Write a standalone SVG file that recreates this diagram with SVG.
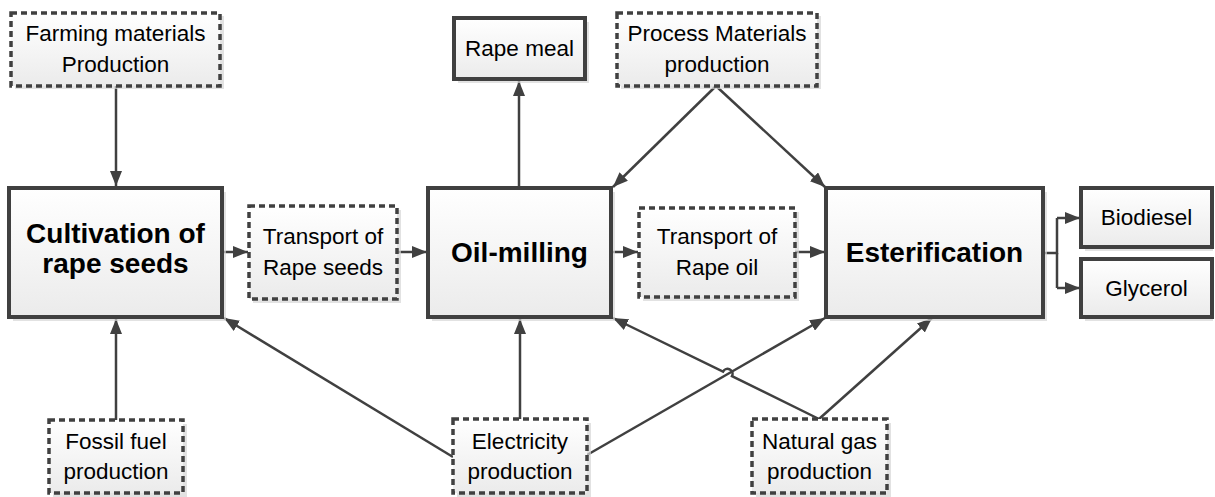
<svg xmlns="http://www.w3.org/2000/svg" width="1215" height="497" viewBox="0 0 1215 497">
<style>
.box{fill:url(#g);stroke:#404040;stroke-width:4}
.dbox{fill:url(#g);stroke:#404040;stroke-width:3.5;stroke-dasharray:6 4}
.sh{fill:#d6d6d6;opacity:0.7}
.big{font-family:"Liberation Sans",Arial,sans-serif;font-weight:bold;font-size:28px;fill:#000;text-anchor:middle}
.t{font-family:"Liberation Sans",Arial,sans-serif;font-size:22.5px;fill:#000;text-anchor:middle}
.c{fill:none;stroke:#404040;stroke-width:2.5}
.a{marker-end:url(#ah)}
</style>
<defs>
<linearGradient id="g" x1="0" y1="0" x2="0" y2="1">
<stop offset="0" stop-color="#ffffff"/>
<stop offset="1" stop-color="#ebebeb"/>
</linearGradient>
<marker id="ah" markerUnits="userSpaceOnUse" markerWidth="16" markerHeight="12" refX="15" refY="6" orient="auto">
<path d="M0,0 L15,6 L0,12 z" fill="#404040"/>
</marker>
</defs>
<g id="connectors">
<path class="c a" d="M116,86 V186"/>
<path class="c a" d="M116,420 V319"/>
<path class="c a" d="M222,252 H248"/>
<path class="c a" d="M397,252 H427"/>
<path class="c a" d="M519,188 V81"/>
<path class="c a" d="M716,86 L613,187"/>
<path class="c a" d="M716,86 L825,187"/>
<path class="c a" d="M611,252 H638"/>
<path class="c a" d="M795,252 H825"/>
<path class="c" d="M1043,253 H1057 V218"/>
<path class="c a" d="M1057,218 H1080"/>
<path class="c" d="M1057,253 V288"/>
<path class="c a" d="M1057,288 H1080"/>
<path class="c a" d="M520,419 V319"/>
<path class="c a" d="M453,457 L224,318"/>
<path class="c a" d="M587,455 L825,318"/>
<path class="c a" d="M819,419 L732,376.1 A5,5 0 0 0 723,371.7 L613,318"/>
<path class="c a" d="M819,419 L932,318"/>
</g>
<g id="farming">
<rect class="sh" x="15" y="16" width="209" height="73"/>
<rect class="dbox" x="11" y="13" width="209" height="73"/>
<text class="t" x="115.5" y="41">Farming materials</text>
<text class="t" x="115.5" y="72">Production</text>
</g>
<g id="cultivation">
<rect class="sh" x="13" y="192" width="213" height="129"/>
<rect class="box" x="9" y="188" width="213" height="129"/>
<text class="big" x="115.5" y="243">Cultivation of</text>
<text class="big" x="115.5" y="273">rape seeds</text>
</g>
<g id="transport-seeds">
<rect class="sh" x="253" y="210" width="148" height="93"/>
<rect class="dbox" x="249" y="206" width="148" height="93"/>
<text class="t" x="323" y="244">Transport of</text>
<text class="t" x="323" y="275">Rape seeds</text>
</g>
<g id="oil-milling">
<rect class="sh" x="432" y="192" width="183" height="129"/>
<rect class="box" x="428" y="188" width="183" height="129"/>
<text class="big" x="519.5" y="262">Oil-milling</text>
</g>
<g id="rape-meal">
<rect class="sh" x="458" y="22" width="131" height="61"/>
<rect class="box" x="454" y="18" width="131" height="61"/>
<text class="t" x="519.5" y="56">Rape meal</text>
</g>
<g id="process-materials">
<rect class="sh" x="621" y="16" width="200" height="73"/>
<rect class="dbox" x="617" y="13" width="200" height="73"/>
<text class="t" x="717" y="41">Process Materials</text>
<text class="t" x="717" y="72">production</text>
</g>
<g id="transport-oil">
<rect class="sh" x="643" y="212" width="156" height="89"/>
<rect class="dbox" x="639" y="208" width="156" height="89"/>
<text class="t" x="717" y="244">Transport of</text>
<text class="t" x="717" y="275">Rape oil</text>
</g>
<g id="esterification">
<rect class="sh" x="830" y="192" width="217" height="129"/>
<rect class="box" x="826" y="188" width="217" height="129"/>
<text class="big" x="934.5" y="262">Esterification</text>
</g>
<g id="biodiesel">
<rect class="sh" x="1085" y="192" width="128" height="59"/>
<rect class="box" x="1081" y="188" width="131" height="59"/>
<text class="t" x="1146.5" y="225">Biodiesel</text>
</g>
<g id="glycerol">
<rect class="sh" x="1085" y="263" width="128" height="58"/>
<rect class="box" x="1081" y="259" width="131" height="58"/>
<text class="t" x="1146.5" y="296">Glycerol</text>
</g>
<g id="fossil">
<rect class="sh" x="53" y="424" width="134" height="73"/>
<rect class="dbox" x="49" y="420" width="134" height="73"/>
<text class="t" x="116" y="449">Fossil fuel</text>
<text class="t" x="116" y="479">production</text>
</g>
<g id="electricity">
<rect class="sh" x="457" y="423" width="134" height="74"/>
<rect class="dbox" x="453" y="419" width="134" height="74"/>
<text class="t" x="520" y="449">Electricity</text>
<text class="t" x="520" y="479">production</text>
</g>
<g id="natural-gas">
<rect class="sh" x="756" y="423" width="135" height="74"/>
<rect class="dbox" x="752" y="419" width="135" height="74"/>
<text class="t" x="819.5" y="449">Natural gas</text>
<text class="t" x="819.5" y="479">production</text>
</g>
</svg>
